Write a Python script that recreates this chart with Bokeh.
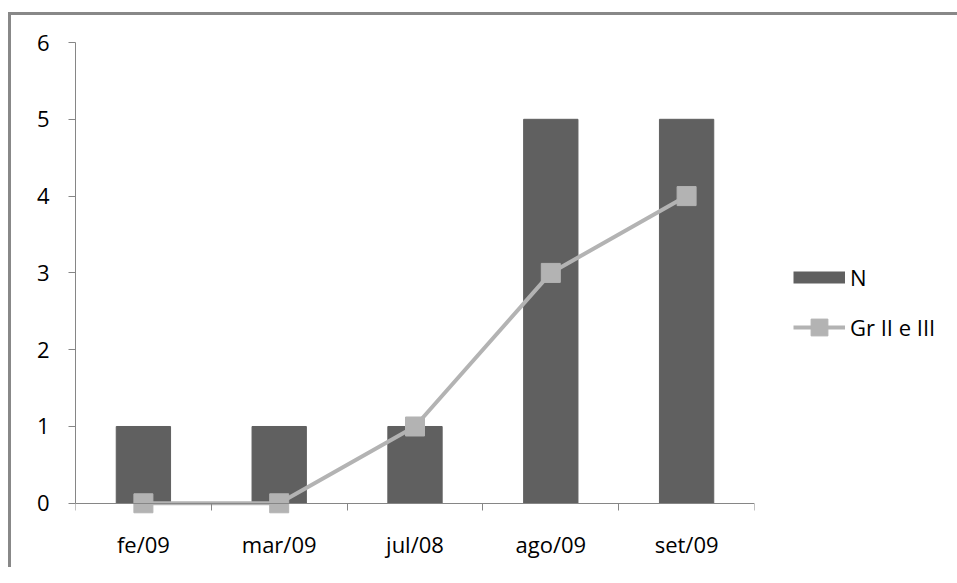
from bokeh.plotting import figure
from bokeh.models import (ColumnDataSource, FixedTicker, CustomJSTickFormatter,
                          Legend, LegendItem, Range1d)
from bokeh.embed import file_html
from bokeh.resources import INLINE

# ---- data ----
categories = ["fe/09", "mar/09", "jul/08", "ago/09", "set/09"]
n_values = [1, 1, 1, 5, 5]
gr_values = [0, 0, 1, 3, 4]
y_ticks = [0, 1, 2, 3, 4, 5, 6]

xs = [i + 0.5 for i in range(len(categories))]
src = ColumnDataSource(dict(x=xs, n=n_values, gr=gr_values, cat=categories))

FONT = "Open Sans"
BAR = "#606060"
LINE = "#b3b3b3"
AXIS = "#868686"

p = figure(output_backend="svg", toolbar_location=None,
           frame_width=679, frame_height=523,
           x_range=Range1d(0, len(categories)), y_range=Range1d(-0.81, 6),
           min_border_left=64, min_border_top=27, min_border_right=180,
           min_border_bottom=2)
p.margin = (12, 0, 0, 8)
p.styles = {"border-top": "3px solid #888888", "border-left": "3px solid #888888"}
p.outline_line_color = None
p.grid.visible = False
p.background_fill_color = "white"
p.border_fill_color = "white"

bars = p.vbar(x="x", top="n", width=0.4, bottom=0, source=src,
              fill_color=BAR, line_color=BAR)
ln = p.line(x="x", y="gr", source=src, line_color=LINE, line_width=4)
mk = p.scatter(x="x", y="gr", source=src, marker="square", size=19,
               fill_color=LINE, line_color=LINE)

# legend proxy for the bar series (thick short line looks like the swatch)
proxy = p.line(x=[-1.0], y=[-1.0], line_color=BAR, line_width=12)

# axes
xa = p.xaxis[0]
xa.fixed_location = 0
xa.ticker = FixedTicker(ticks=xs, minor_ticks=list(range(len(categories) + 1)))
xa.formatter = CustomJSTickFormatter(args=dict(labels=categories),
                                     code="return labels[Math.floor(tick)]")
xa.major_tick_out = 0
xa.major_tick_in = 0
xa.minor_tick_out = 7
xa.minor_tick_in = 0
xa.minor_tick_line_color = AXIS
xa.axis_line_color = AXIS
xa.major_label_standoff = 19
xa.major_label_text_font = FONT
xa.major_label_text_font_size = "22px"
xa.major_label_text_color = "#000000"

ya = p.yaxis[0]
ya.bounds = (0, 6)
ya.ticker = FixedTicker(ticks=y_ticks)
ya.major_tick_out = 7
ya.major_tick_in = 0
ya.minor_tick_out = 0
ya.minor_tick_in = 0
ya.major_tick_line_color = AXIS
ya.axis_line_color = AXIS
ya.major_label_standoff = 19
ya.major_label_text_font = FONT
ya.major_label_text_font_size = "22px"
ya.major_label_text_color = "#000000"

legend = Legend(items=[LegendItem(label="N", renderers=[proxy]),
                       LegendItem(label="Gr II e III", renderers=[ln, mk])],
                location=(39, 217), orientation="vertical",
                glyph_width=52, glyph_height=42, label_standoff=5,
                spacing=8, padding=0, margin=0,
                border_line_color=None, background_fill_alpha=0,
                label_text_font=FONT, label_text_font_size="22px",
                label_text_color="#000000")
p.add_layout(legend, "right")

open("out.html", "w").write(file_html(p, INLINE))
